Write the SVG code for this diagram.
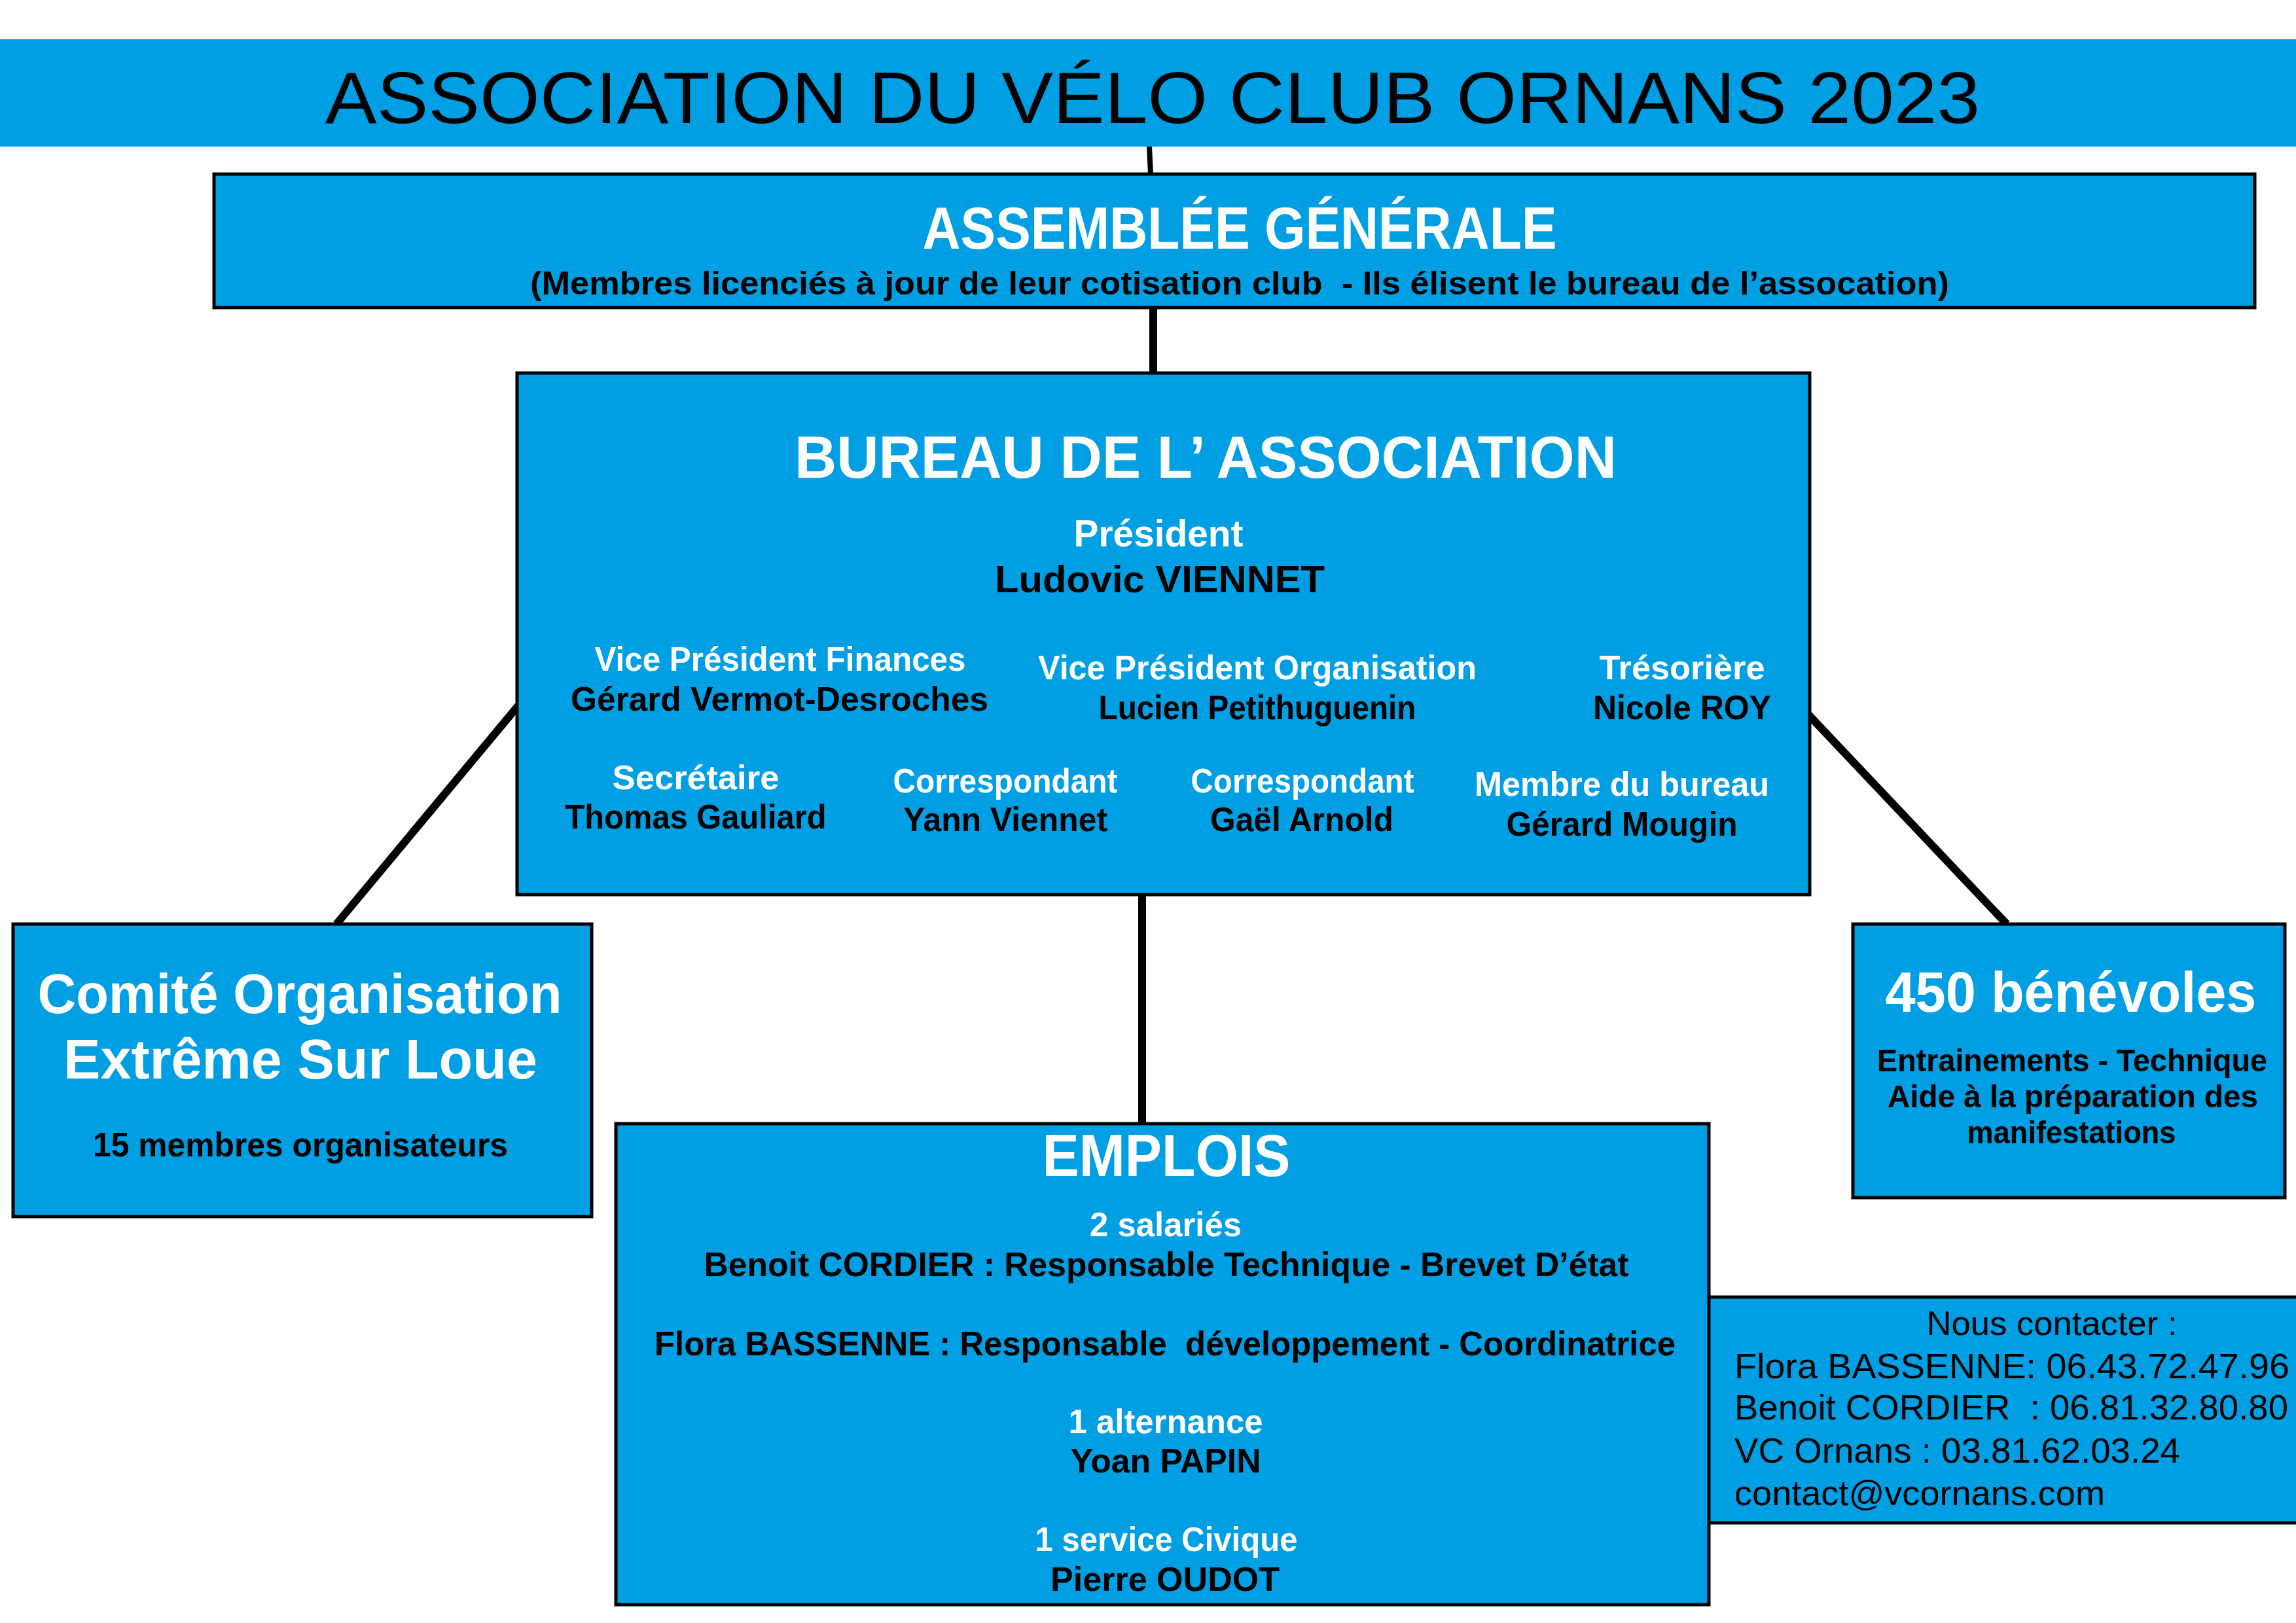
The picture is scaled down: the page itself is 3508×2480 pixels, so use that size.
<svg xmlns="http://www.w3.org/2000/svg" width="3508" height="2480" viewBox="0 0 3508 2480">
<style>
.box{fill:#009FE3;stroke:#000;stroke-width:5}
.c{stroke:#000;stroke-linecap:butt;fill:none}
text{font-family:"Liberation Sans",Arial,sans-serif;text-anchor:middle}
.w{fill:#fff;font-weight:bold}
.k{fill:#000;font-weight:bold}
.r{fill:#000;font-weight:normal}
.l{text-anchor:start}
</style>
<rect x="0" y="0" width="3508" height="2480" fill="#fff"/>
<g id="connectors">
<line class="c" x1="1756" y1="224" x2="1758" y2="266" stroke-width="8"/>
<line class="c" x1="1762" y1="470" x2="1762" y2="570" stroke-width="12"/>
<line class="c" x1="792" y1="1078" x2="514" y2="1412" stroke-width="12"/>
<line class="c" x1="2763" y1="1092" x2="3066" y2="1412" stroke-width="12"/>
<line class="c" x1="1745" y1="1367" x2="1745" y2="1717" stroke-width="12"/>
</g>
<g id="title">
<rect x="0" y="60" width="3508" height="164" fill="#009FE3"/>
<text class="r" x="1761" y="188" font-size="112" textLength="2528" lengthAdjust="spacingAndGlyphs">ASSOCIATION DU VÉLO CLUB ORNANS 2023</text>
</g>
<g id="assemblee">
<rect class="box" x="327" y="266" width="3118" height="204"/>
<text class="w" x="1894" y="380" font-size="90" textLength="969" lengthAdjust="spacingAndGlyphs">ASSEMBLÉE GÉNÉRALE</text>
<text class="k" x="1894" y="450" font-size="50" textLength="2168" lengthAdjust="spacingAndGlyphs" xml:space="preserve">(Membres licenciés à jour de leur cotisation club  - Ils élisent le bureau de l’assocation)</text>
</g>
<g id="bureau">
<rect class="box" x="790" y="570" width="1975" height="797"/>
<text class="w" x="1842" y="730" font-size="90" textLength="1256" lengthAdjust="spacingAndGlyphs">BUREAU DE L’ ASSOCIATION</text>
<text class="w" x="1770" y="835" font-size="58" textLength="259" lengthAdjust="spacingAndGlyphs">Président</text>
<text class="k" x="1772" y="905" font-size="58" textLength="504" lengthAdjust="spacingAndGlyphs">Ludovic VIENNET</text>
<text class="w" x="1192" y="1025" font-size="52" textLength="567" lengthAdjust="spacingAndGlyphs">Vice Président Finances</text>
<text class="k" x="1191" y="1086" font-size="52" textLength="638" lengthAdjust="spacingAndGlyphs">Gérard Vermot-Desroches</text>
<text class="w" x="1921" y="1038" font-size="52" textLength="670" lengthAdjust="spacingAndGlyphs">Vice Président Organisation</text>
<text class="k" x="1921" y="1099" font-size="52" textLength="485" lengthAdjust="spacingAndGlyphs">Lucien Petithuguenin</text>
<text class="w" x="2570" y="1038" font-size="52" textLength="253" lengthAdjust="spacingAndGlyphs">Trésorière</text>
<text class="k" x="2570" y="1099" font-size="52" textLength="272" lengthAdjust="spacingAndGlyphs">Nicole ROY</text>
<text class="w" x="1063" y="1206" font-size="52" textLength="255" lengthAdjust="spacingAndGlyphs">Secrétaire</text>
<text class="k" x="1063" y="1266" font-size="52" textLength="399" lengthAdjust="spacingAndGlyphs">Thomas Gauliard</text>
<text class="w" x="1536" y="1211" font-size="52" textLength="343" lengthAdjust="spacingAndGlyphs">Correspondant</text>
<text class="k" x="1536" y="1270" font-size="52" textLength="312" lengthAdjust="spacingAndGlyphs">Yann Viennet</text>
<text class="w" x="1990" y="1211" font-size="52" textLength="341" lengthAdjust="spacingAndGlyphs">Correspondant</text>
<text class="k" x="1989" y="1270" font-size="52" textLength="280" lengthAdjust="spacingAndGlyphs">Gaël Arnold</text>
<text class="w" x="2478" y="1216" font-size="52" textLength="450" lengthAdjust="spacingAndGlyphs">Membre du bureau</text>
<text class="k" x="2478" y="1277" font-size="52" textLength="353" lengthAdjust="spacingAndGlyphs">Gérard Mougin</text>
</g>
<g id="comite">
<rect class="box" x="20" y="1412" width="884" height="447"/>
<text class="w" x="458" y="1548" font-size="86" textLength="801" lengthAdjust="spacingAndGlyphs">Comité Organisation</text>
<text class="w" x="459" y="1648" font-size="86" textLength="724" lengthAdjust="spacingAndGlyphs">Extrême Sur Loue</text>
<text class="k" x="459" y="1767" font-size="52" textLength="634" lengthAdjust="spacingAndGlyphs">15 membres organisateurs</text>
</g>
<g id="benevoles">
<rect class="box" x="2831" y="1412" width="660" height="418"/>
<text class="w" x="3164" y="1546" font-size="88" textLength="567" lengthAdjust="spacingAndGlyphs">450 bénévoles</text>
<text class="k" x="3166" y="1637" font-size="48" textLength="596" lengthAdjust="spacingAndGlyphs">Entrainements - Technique</text>
<text class="k" x="3167" y="1692" font-size="48" textLength="566" lengthAdjust="spacingAndGlyphs">Aide à la préparation des</text>
<text class="k" x="3165" y="1747" font-size="48" textLength="319" lengthAdjust="spacingAndGlyphs">manifestations</text>
</g>
<g id="contact">
<rect class="box" x="2600" y="1982" width="930" height="345"/>
<text class="r" x="3135" y="2040" font-size="52" textLength="383" lengthAdjust="spacingAndGlyphs">Nous contacter :</text>
<text class="r l" x="2650" y="2106" font-size="53" textLength="848" lengthAdjust="spacingAndGlyphs">Flora BASSENNE: 06.43.72.47.96</text>
<text class="r l" x="2650" y="2169" font-size="53" textLength="846" lengthAdjust="spacingAndGlyphs" xml:space="preserve">Benoit CORDIER  : 06.81.32.80.80</text>
<text class="r l" x="2650" y="2235" font-size="54" textLength="681" lengthAdjust="spacingAndGlyphs">VC Ornans : 03.81.62.03.24</text>
<text class="r l" x="2650" y="2300" font-size="54" textLength="566" lengthAdjust="spacingAndGlyphs">contact@vcornans.com</text>
</g>
<g id="emplois">
<rect class="box" x="941" y="1717" width="1670" height="735"/>
<text class="w" x="1782" y="1797" font-size="90" textLength="379" lengthAdjust="spacingAndGlyphs">EMPLOIS</text>
<text class="w" x="1781" y="1889" font-size="52" textLength="232" lengthAdjust="spacingAndGlyphs">2 salariés</text>
<text class="k" x="1782" y="1950" font-size="52" textLength="1413" lengthAdjust="spacingAndGlyphs">Benoit CORDIER : Responsable Technique - Brevet D’état</text>
<text class="k" x="1780" y="2071" font-size="52" textLength="1560" lengthAdjust="spacingAndGlyphs" xml:space="preserve">Flora BASSENNE : Responsable  développement - Coordinatrice</text>
<text class="w" x="1781" y="2190" font-size="52" textLength="297" lengthAdjust="spacingAndGlyphs">1 alternance</text>
<text class="k" x="1781" y="2250" font-size="52" textLength="291" lengthAdjust="spacingAndGlyphs">Yoan PAPIN</text>
<text class="w" x="1782" y="2370" font-size="52" textLength="401" lengthAdjust="spacingAndGlyphs">1 service Civique</text>
<text class="k" x="1780" y="2431" font-size="52" textLength="350" lengthAdjust="spacingAndGlyphs">Pierre OUDOT</text>
</g>
</svg>
